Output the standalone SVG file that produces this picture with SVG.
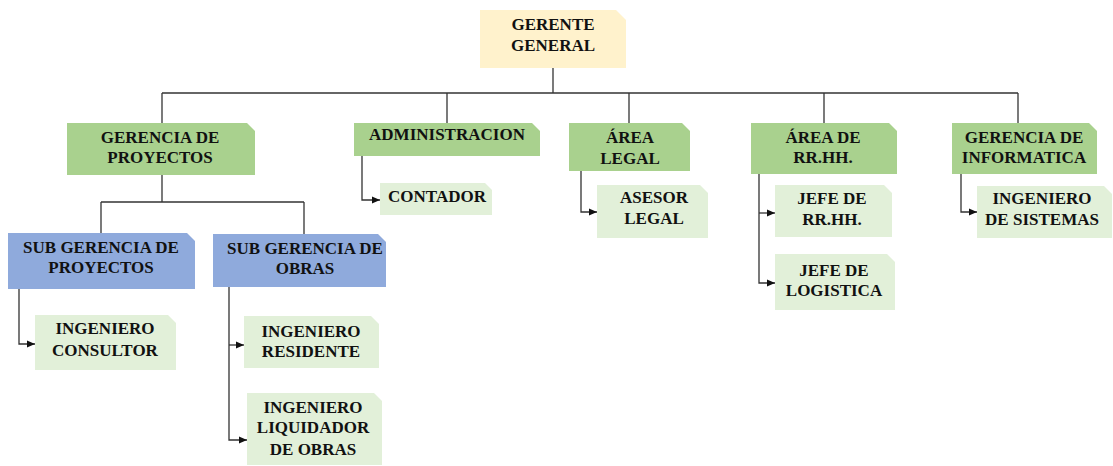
<svg xmlns="http://www.w3.org/2000/svg" width="1113" height="466" viewBox="0 0 1113 466">
<defs>
<style>
.t{font-family:"Liberation Serif","Times New Roman",serif;font-weight:bold;font-size:17px;fill:#111;text-anchor:middle}
.yel{fill:#FFF2CC}
.grn{fill:#A9D18E}
.blu{fill:#8FAADC}
.lgt{fill:#E2F0D9}
.c{fill:none;stroke:#333;stroke-width:1.3}
</style>
<marker id="arr" markerUnits="userSpaceOnUse" markerWidth="9" markerHeight="8" refX="8" refY="4" orient="auto">
<path d="M0,0.5 L8,4 L0,7.5 z" fill="#111"/>
</marker>
</defs>
<rect width="1113" height="466" fill="#fff"/>
<g id="connectors">
<path class="c" d="M553,68 V93"/>
<path class="c" d="M162,93 H1018"/>
<path class="c" d="M162,93 V123"/>
<path class="c" d="M447,93 V123"/>
<path class="c" d="M629,93 V123"/>
<path class="c" d="M824,93 V123"/>
<path class="c" d="M1018,93 V123"/>
<path class="c" d="M162,175 V202"/>
<path class="c" d="M101,202 H304"/>
<path class="c" d="M101,202 V233"/>
<path class="c" d="M304,202 V234"/>
<path class="c" d="M362,156 V200 H380" marker-end="url(#arr)"/>
<path class="c" d="M581,171 V212 H597" marker-end="url(#arr)"/>
<path class="c" d="M759,174 V283 H775" marker-end="url(#arr)"/>
<path class="c" d="M759,213 H775" marker-end="url(#arr)"/>
<path class="c" d="M961,174 V212 H977" marker-end="url(#arr)"/>
<path class="c" d="M19,289 V344 H35" marker-end="url(#arr)"/>
<path class="c" d="M229,287 V440 H247" marker-end="url(#arr)"/>
<path class="c" d="M229,345 H244" marker-end="url(#arr)"/>
</g>
<g id="gerente-general">
<polygon class="yel" points="480,10 616,10 626,20 626,68 480,68"/>
<text class="t" font-family="Liberation Serif"><tspan x="553" y="30">GERENTE</tspan><tspan x="553" y="51">GENERAL</tspan></text>
</g>
<g id="gerencia-proyectos">
<polygon class="grn" points="67,123 247,123 255,131 255,175 67,175"/>
<text class="t" font-family="Liberation Serif"><tspan x="160" y="143">GERENCIA DE</tspan><tspan x="160" y="163">PROYECTOS</tspan></text>
</g>
<g id="administracion">
<polygon class="grn" points="354,123 532,123 540,131 540,156 354,156"/>
<text class="t" font-family="Liberation Serif" x="447" y="140">ADMINISTRACION</text>
</g>
<g id="area-legal">
<polygon class="grn" points="569,123 682,123 690,131 690,171 569,171"/>
<text class="t" font-family="Liberation Serif"><tspan x="630" y="143">ÁREA</tspan><tspan x="630" y="164">LEGAL</tspan></text>
</g>
<g id="area-rrhh">
<polygon class="grn" points="751,123 889,123 897,131 897,174 751,174"/>
<text class="t" font-family="Liberation Serif"><tspan x="823" y="143">ÁREA DE</tspan><tspan x="823" y="163">RR.HH.</tspan></text>
</g>
<g id="gerencia-informatica">
<polygon class="grn" points="952,123 1089,123 1097,131 1097,174 952,174"/>
<text class="t" font-family="Liberation Serif"><tspan x="1024" y="143">GERENCIA DE</tspan><tspan x="1024" y="163">INFORMATICA</tspan></text>
</g>
<g id="sub-gerencia-proyectos">
<polygon class="blu" points="8,233 187,233 195,241 195,289 8,289"/>
<text class="t" font-family="Liberation Serif"><tspan x="101" y="253">SUB GERENCIA DE</tspan><tspan x="101" y="273">PROYECTOS</tspan></text>
</g>
<g id="sub-gerencia-obras">
<polygon class="blu" points="213,234 378,234 386,242 386,287 213,287"/>
<text class="t" font-family="Liberation Serif"><tspan x="305" y="254">SUB GERENCIA DE</tspan><tspan x="305" y="274">OBRAS</tspan></text>
</g>
<g id="contador">
<polygon class="lgt" points="380,183 485,183 492,190 492,215 380,215"/>
<text class="t" font-family="Liberation Serif" x="437" y="202">CONTADOR</text>
</g>
<g id="asesor-legal">
<polygon class="lgt" points="597,185 700,185 708,193 708,238 597,238"/>
<text class="t" font-family="Liberation Serif"><tspan x="654" y="203">ASESOR</tspan><tspan x="654" y="224">LEGAL</tspan></text>
</g>
<g id="jefe-rrhh">
<polygon class="lgt" points="775,185 884,185 892,193 892,237 775,237"/>
<text class="t" font-family="Liberation Serif"><tspan x="832" y="204">JEFE DE</tspan><tspan x="832" y="225">RR.HH.</tspan></text>
</g>
<g id="jefe-logistica">
<polygon class="lgt" points="775,254 887,254 895,262 895,310 775,310"/>
<text class="t" font-family="Liberation Serif"><tspan x="834" y="276">JEFE DE</tspan><tspan x="834" y="296">LOGISTICA</tspan></text>
</g>
<g id="ingeniero-sistemas">
<polygon class="lgt" points="977,186 1104,186 1112,194 1112,238 977,238"/>
<text class="t" font-family="Liberation Serif"><tspan x="1042" y="204">INGENIERO</tspan><tspan x="1042" y="225">DE SISTEMAS</tspan></text>
</g>
<g id="ingeniero-consultor">
<polygon class="lgt" points="35,315 168,315 176,323 176,370 35,370"/>
<text class="t" font-family="Liberation Serif"><tspan x="105" y="334">INGENIERO</tspan><tspan x="105" y="356">CONSULTOR</tspan></text>
</g>
<g id="ingeniero-residente">
<polygon class="lgt" points="244,316 371,316 379,324 379,368 244,368"/>
<text class="t" font-family="Liberation Serif"><tspan x="311" y="337">INGENIERO</tspan><tspan x="311" y="357">RESIDENTE</tspan></text>
</g>
<g id="ingeniero-liquidador">
<polygon class="lgt" points="247,393 374,393 382,401 382,465 247,465"/>
<text class="t" font-family="Liberation Serif"><tspan x="313" y="413">INGENIERO</tspan><tspan x="313" y="433">LIQUIDADOR</tspan><tspan x="313" y="455">DE OBRAS</tspan></text>
</g>
</svg>
